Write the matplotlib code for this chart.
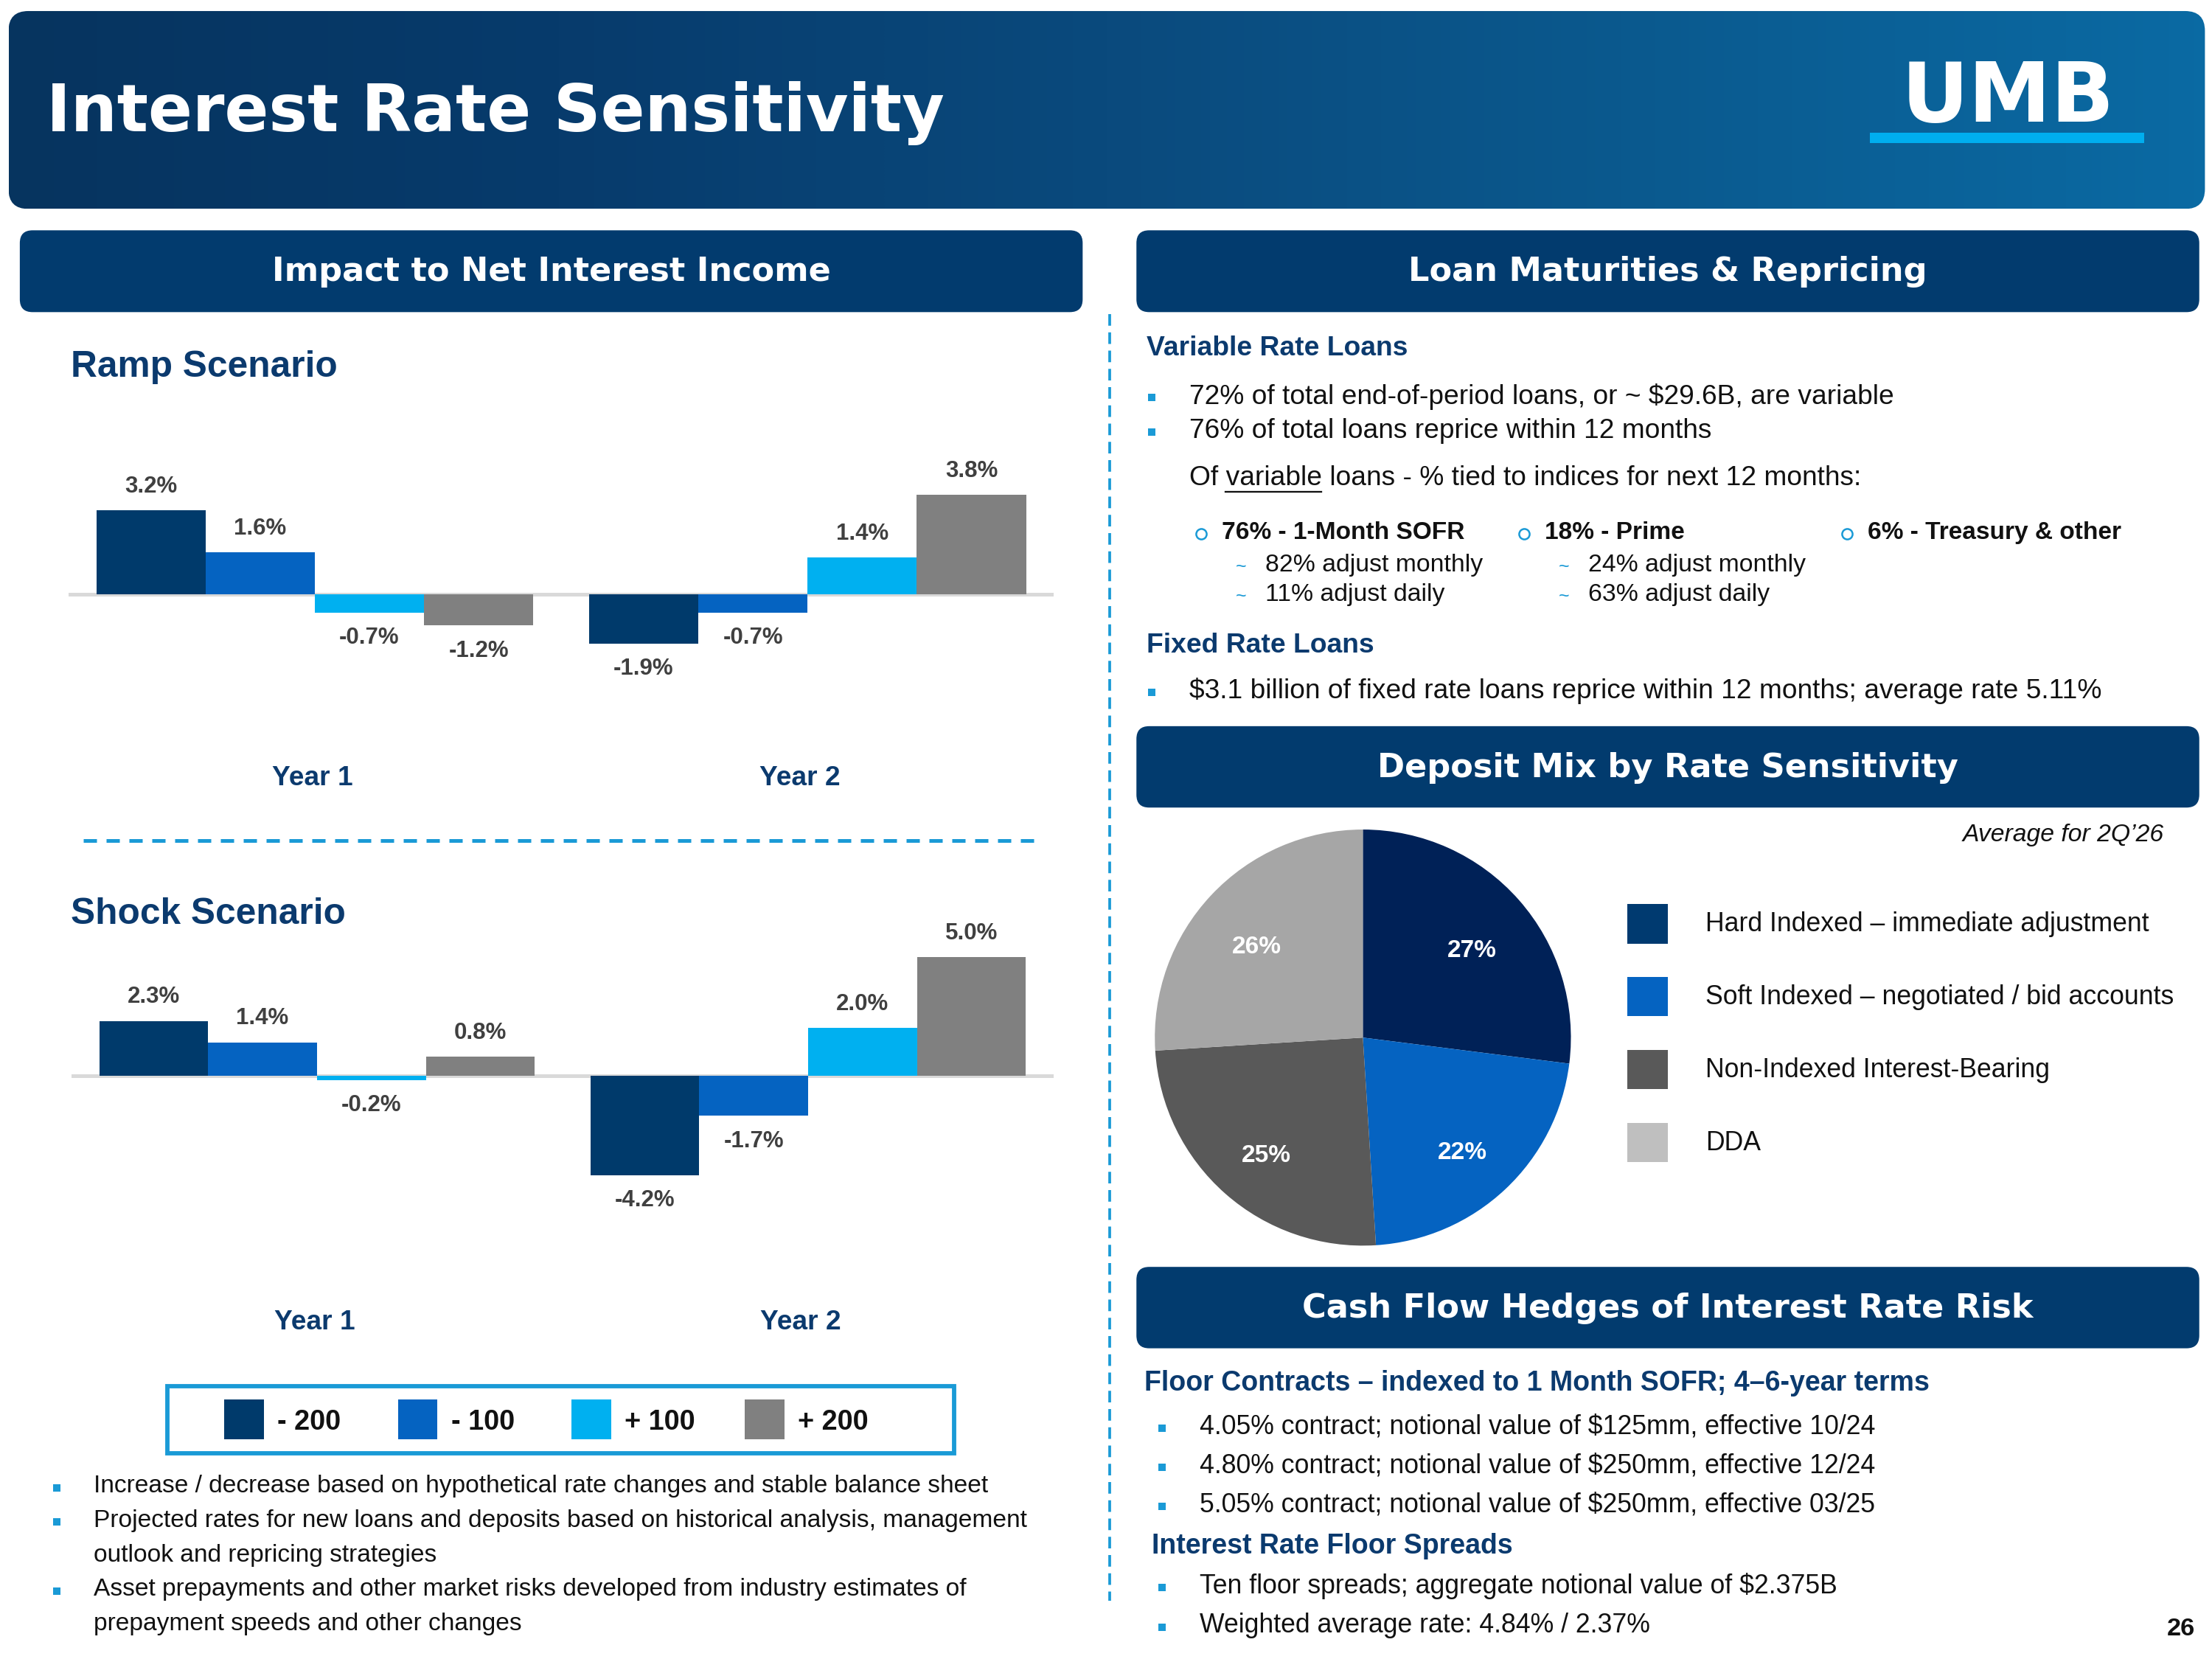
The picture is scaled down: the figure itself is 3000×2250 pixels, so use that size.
import matplotlib
matplotlib.use("Agg")
import matplotlib.pyplot as plt
import numpy as np
from matplotlib.patches import FancyBboxPatch, Rectangle
from matplotlib.colors import LinearSegmentedColormap

plt.rcParams['font.family'] = ['Liberation Sans', 'DejaVu Sans']

# ---------------- data ----------------
scenarios = ["- 200", "- 100", "+ 100", "+ 200"]
scenario_colors = ["#003a6b", "#0563c1", "#00b0f0", "#808080"]
years = ["Year 1", "Year 2"]
ramp_year1 = [3.2, 1.6, -0.7, -1.2]
ramp_year2 = [-1.9, -0.7, 1.4, 3.8]
shock_year1 = [2.3, 1.4, -0.2, 0.8]
shock_year2 = [-4.2, -1.7, 2.0, 5.0]

deposit_labels = ["Hard Indexed \u2013 immediate adjustment",
                  "Soft Indexed \u2013 negotiated / bid accounts",
                  "Non-Indexed Interest-Bearing",
                  "DDA"]
deposit_share = [27, 22, 25, 26]
pie_colors = ["#002157", "#0563c1", "#595959", "#a6a6a6"]
deposit_legend_colors = ["#003a70", "#0563c1", "#595959", "#bfbfbf"]

nii_notes = ["Increase / decrease based on hypothetical rate changes and stable balance sheet",
             "Projected rates for new loans and deposits based on historical analysis, management\noutlook and repricing strategies",
             "Asset prepayments and other market risks developed from industry estimates of\nprepayment speeds and other changes"]
variable_bullets = ["72% of total end-of-period loans, or ~ $29.6B, are variable",
                    "76% of total loans reprice within 12 months"]
index_heads = ["76% - 1-Month SOFR", "18% - Prime", "6% - Treasury & other"]
index_subs = [["82% adjust monthly", "11% adjust daily"],
              ["24% adjust monthly", "63% adjust daily"],
              []]
fixed_bullet = "$3.1 billion of fixed rate loans reprice within 12 months; average rate 5.11%"
floor_bullets = ["4.05% contract; notional value of $125mm, effective 10/24",
                 "4.80% contract; notional value of $250mm, effective 12/24",
                 "5.05% contract; notional value of $250mm, effective 03/25"]
spread_bullets = ["Ten floor spreads; aggregate notional value of $2.375B",
                  "Weighted average rate: 4.84% / 2.37%"]

# ---------------- styles ----------------
NAVY = "#023b6e"
HEAD = "#0b3a6e"
LBLUE = "#1a9ad6"
TXT = "#111111"
LABEL = "#404040"

W, H = 1563, 1172
fig = plt.figure(figsize=(20, 15), dpi=150)
bg = fig.add_axes([0, 0, 1, 1])
bg.axis('off')

# ---- banner ----
grad = np.linspace(0, 1, 512).reshape(1, -1)
bcmap = LinearSegmentedColormap.from_list('banner', ['#06345f', '#073b6c', '#0a4a7d', '#0a5a8f', '#0a6aa3'])
im = bg.imshow(grad, extent=[6, 1558, 147.6, 7.8], cmap=bcmap, aspect='auto', zorder=1, interpolation='bilinear')
banner = FancyBboxPatch((6, 7.8), 1552, 139.8, boxstyle='round,pad=0,rounding_size=14',
                        facecolor='none', edgecolor='none', transform=bg.transData)
bg.add_patch(banner)
im.set_clip_path(banner)
bg.text(33, 80, "Interest Rate Sensitivity", color='white', fontsize=42.5, fontweight='bold',
        family='DejaVu Sans', va='center', ha='left', zorder=5)
bg.text(1419, 70, "UMB", color='white', fontsize=54, fontweight='heavy', family='DejaVu Sans',
        va='center', ha='center', zorder=5)
bg.add_patch(Rectangle((1321, 93.7), 194, 7.3, facecolor='#00aeef', edgecolor='none', zorder=5))

# ---- section headers ----
def header(x0, x1, y0, y1, text):
    bg.add_patch(FancyBboxPatch((x0, y0), x1 - x0, y1 - y0, boxstyle='round,pad=0,rounding_size=9',
                                facecolor=NAVY, edgecolor='none', zorder=2))
    bg.text((x0 + x1) / 2, (y0 + y1) / 2 + 0.5, text, color='white', fontsize=21.4, fontweight='bold',
            family='DejaVu Sans', ha='center', va='center', zorder=3)

header(14, 765, 162.7, 220.5, "Impact to Net Interest Income")
header(803, 1554, 162.7, 220.5, "Loan Maturities & Repricing")
header(803, 1554, 513, 570.5, "Deposit Mix by Rate Sensitivity")
header(803, 1554, 895, 952.5, "Cash Flow Hedges of Interest Rate Risk")

# ---- dashed separators ----
bg.plot([784, 784], [222, 1131], color=LBLUE, lw=1.8, dashes=(4.2, 2.4), zorder=2)
bg.plot([59, 737], [594, 594], color=LBLUE, lw=2.4, dashes=(3.6, 2.6), zorder=2)

# ---- scenario titles ----
bg.text(50, 259.5, "Ramp Scenario", color=HEAD, fontsize=23.8, fontweight='bold', va='center', ha='left')
bg.text(50, 646, "Shock Scenario", color=HEAD, fontsize=23.8, fontweight='bold', va='center', ha='left')

# ---- bar charts ----
def to_ax_rect(x0, x1, ytop, ybot):
    return [x0 / W, 1 - ybot / H, (x1 - x0) / W, (ybot - ytop) / H]

def bar_chart(rect, base_y, ytop, ybot, px_per_unit, series, year_label_y):
    ax = fig.add_axes(to_ax_rect(rect[0], rect[1], ytop, ybot))
    ax.set_xlim(-0.5, 1.5)
    ax.set_ylim(-(ybot - base_y) / px_per_unit, (base_y - ytop) / px_per_unit)
    ax.axis('off')
    ax.axhline(0, color='#d9d9d9', lw=2.4, zorder=1)
    bw = 0.2217
    year_shift = [-0.004, -0.016]
    for g, vals in enumerate(series):
        for i, v in enumerate(vals):
            xc = g + (i - 1.5) * bw
            ax.bar(xc, v, width=bw, color=scenario_colors[i], zorder=2, linewidth=0)
            off = 15.5 if v >= 0 else -16.5
            ax.annotate(f"{v:.1f}%", (xc, v), xytext=(0, off), textcoords='offset points',
                        ha='center', va='center', fontsize=15, fontweight='bold', color=LABEL)
        ax.text(g + year_shift[g], (ybot - year_label_y) / (ybot - ytop), years[g],
                transform=ax.get_xaxis_transform(),
                ha='center', va='center', fontsize=17.8, fontweight='bold', color=HEAD)
    return ax

bar_chart((48.3, 744.7), 419.7, 280, 565, 18.45, [ramp_year1, ramp_year2], 550)
bar_chart((50.5, 744.5), 759.8, 600, 950, 16.75, [shock_year1, shock_year2], 934)

# ---- scenario legend box ----
bg.add_patch(Rectangle((118.5, 979.5), 555.5, 47, facecolor='white', edgecolor=LBLUE, lw=2.8, zorder=2))
for i, (lab, col) in enumerate(zip(scenarios, scenario_colors)):
    x0 = 158.5 + i * 122.6
    bg.add_patch(Rectangle((x0, 988.5), 28, 28.5, facecolor=col, edgecolor='none', zorder=3))
    bg.text(x0 + 37.5, 1005, lab, fontsize=18.2, fontweight='bold', color=TXT, va='center', ha='left', zorder=3)

# ---- bullet helpers ----
def sq_bullet(x, y, size=4.6):
    bg.plot([x], [y], marker='s', ms=size, color=LBLUE, mec='none', zorder=3)

# notes under legend
line_gap = 24.3
y = 1050
for note in nii_notes:
    lines = note.split("\n")
    sq_bullet(40, y + 1)
    for ln in lines:
        bg.text(66.3, y, ln, fontsize=16.1, color=TXT, va='center', ha='left')
        y += line_gap

# ---- Loan maturities ----
BODY_R = 17.8
bg.text(810, 246, "Variable Rate Loans", color=HEAD, fontsize=17.9, fontweight='bold', va='center', ha='left')
for k, t in enumerate(variable_bullets):
    yy = 280 + k * 24.2
    sq_bullet(814, yy + 1)
    bg.text(840.3, yy, t, fontsize=BODY_R, color=TXT, va='center', ha='left')

of_line = "Of variable loans - % tied to indices for next 12 months:"
bg.text(840.3, 338, of_line, fontsize=BODY_R, color=TXT, va='center', ha='left')
renderer = fig.canvas.get_renderer()
inv = bg.transData.inverted()
def measure(s, fs):
    tt = bg.text(840.3, 338, s, fontsize=fs, va='center', ha='left')
    bb = tt.get_window_extent(renderer=renderer)
    tt.remove()
    (a, _), (b, _) = inv.transform([[bb.x0, bb.y0], [bb.x1, bb.y1]])
    return b - a
w_ofv = measure("Of variable", BODY_R)
w_v = measure("variable", BODY_R)
x_start = 840.3 + w_ofv - w_v
x_end = 840.3 + w_ofv
bg.plot([x_start, x_end], [347.5, 347.5], color=TXT, lw=1.1, zorder=3)

circle_x = [848.8, 1077, 1305]
for k, head in enumerate(index_heads):
    bg.plot([circle_x[k]], [377], marker='o', ms=6.8, mfc='none', mec=LBLUE, mew=1.2, zorder=3)
    bg.text(circle_x[k] + 14.5, 376.3, head, fontsize=16.1, fontweight='bold', color=TXT, va='center', ha='left')
    for j, s in enumerate(index_subs[k]):
        yy = 399.5 + j * 20.8
        bg.text(circle_x[k] + 28, yy + 1, "~", fontsize=12, color=LBLUE, va='center', ha='center')
        bg.text(circle_x[k] + 45, yy, s, fontsize=16.2, color=TXT, va='center', ha='left')

bg.text(810, 456, "Fixed Rate Loans", color=HEAD, fontsize=17.9, fontweight='bold', va='center', ha='left')
sq_bullet(814, 489)
bg.text(840.3, 488, fixed_bullet, fontsize=BODY_R, color=TXT, va='center', ha='left')

# ---- Deposit mix ----
bg.text(1529, 590, "Average for 2Q\u201926", fontsize=16.2, style='italic', color=TXT, va='center', ha='right')
pax = fig.add_axes([816 / W, 1 - 880 / H, 294 / W, 294 / H])
wedges, _ = pax.pie(deposit_share, colors=pie_colors, startangle=90, counterclock=False,
                    wedgeprops=dict(linewidth=0))
for v, wdg in zip(deposit_share, wedges):
    mid = np.deg2rad((wdg.theta1 + wdg.theta2) / 2)
    r = 0.70
    pax.annotate(f"{v}%", (r * np.cos(mid), r * np.sin(mid)), xytext=(0, -6),
                 textcoords='offset points', color='white', fontsize=16,
                 fontweight='bold', ha='center', va='center')
pax.set_xlim(-1, 1)
pax.set_ylim(-1, 1)
pax.set_aspect('equal')

for k, (lab, col) in enumerate(zip(deposit_labels, deposit_legend_colors)):
    yc = 652.6 + k * 51.5
    bg.add_patch(Rectangle((1150, yc - 13.9), 28.6, 27.8, facecolor=col, edgecolor='none', zorder=3))
    bg.text(1205, yc + 0.5, lab, fontsize=17.1, color=TXT, va='center', ha='left')

# ---- Cash flow hedges ----
bg.text(808.7, 977, "Floor Contracts \u2013 indexed to 1 Month SOFR; 4\u20136-year terms", color=HEAD,
        fontsize=18, fontweight='bold', va='center', ha='left')
for k, t in enumerate(floor_bullets):
    yy = 1008 + k * 27.5
    sq_bullet(821.2, yy + 1)
    bg.text(847.7, yy, t, fontsize=17.1, color=TXT, va='center', ha='left')
bg.text(813.7, 1092.5, "Interest Rate Floor Spreads", color=HEAD, fontsize=18, fontweight='bold',
        va='center', ha='left')
for k, t in enumerate(spread_bullets):
    yy = 1120.5 + k * 28
    sq_bullet(821.2, yy + 1)
    bg.text(847.7, yy, t, fontsize=17.1, color=TXT, va='center', ha='left')

bg.text(1541, 1151, "26", fontsize=16.5, fontweight='bold', color=TXT, va='center', ha='center')

bg.set_xlim(0, W)
bg.set_ylim(H, 0)

fig.savefig("out.png", dpi=150, facecolor='white')
